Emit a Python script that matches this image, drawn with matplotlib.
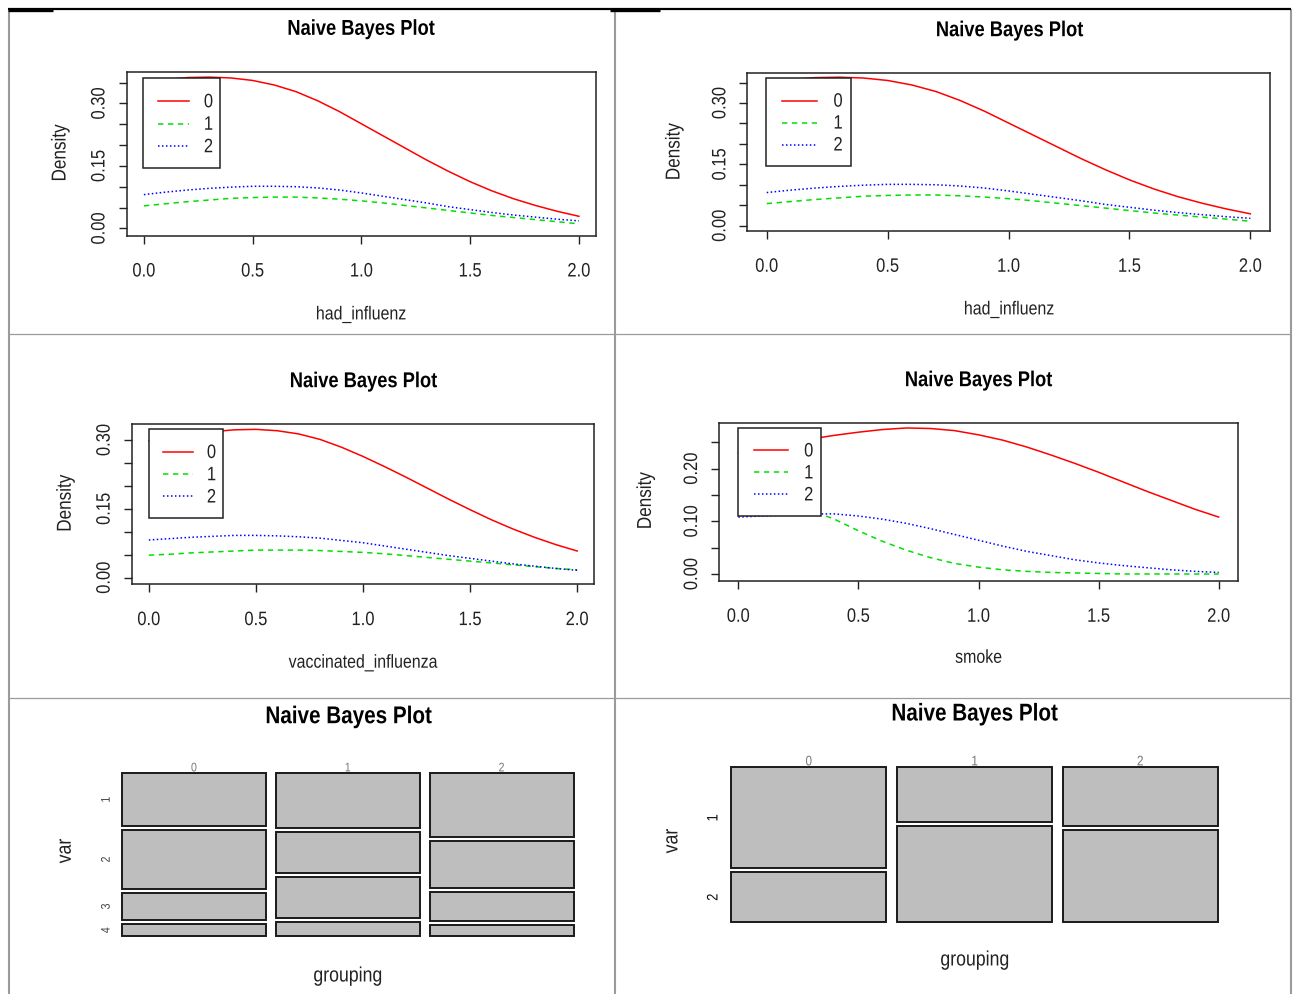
import matplotlib.pyplot as plt
from matplotlib.lines import Line2D
from matplotlib.patches import Rectangle
from matplotlib.patheffects import AbstractPathEffect
from matplotlib.text import Text
from matplotlib.transforms import Affine2D

plt.rcParams['font.family'] = ['Liberation Sans', 'DejaVu Sans']

W, H = 1298, 994

# class-conditional densities, read on a 0.1 grid
x_grid = [0.0, 0.1, 0.2, 0.3, 0.4, 0.5, 0.6, 0.7, 0.8, 0.9, 1.0,
          1.1, 1.2, 1.3, 1.4, 1.5, 1.6, 1.7, 1.8, 1.9, 2.0]
classes = ['0', '1', '2']

had_influenz_0 = [0.350, 0.357, 0.362, 0.363, 0.361, 0.355, 0.344, 0.328, 0.306, 0.280, 0.251,
                  0.222, 0.193, 0.164, 0.137, 0.112, 0.090, 0.071, 0.055, 0.041, 0.029]
had_influenz_1 = [0.054, 0.059, 0.064, 0.068, 0.072, 0.074, 0.075, 0.075, 0.073, 0.070, 0.066,
                  0.061, 0.055, 0.049, 0.043, 0.037, 0.031, 0.026, 0.021, 0.016, 0.011]
had_influenz_2 = [0.081, 0.087, 0.092, 0.096, 0.099, 0.101, 0.101, 0.100, 0.097, 0.092, 0.085,
                  0.077, 0.069, 0.061, 0.052, 0.045, 0.038, 0.032, 0.027, 0.022, 0.018]

vaccinated_0 = [0.298, 0.306, 0.313, 0.318, 0.322, 0.323, 0.320, 0.313, 0.301, 0.284, 0.264,
                0.242, 0.219, 0.195, 0.171, 0.148, 0.126, 0.106, 0.088, 0.072, 0.058]
vaccinated_1 = [0.049, 0.051, 0.054, 0.056, 0.058, 0.060, 0.060, 0.060, 0.059, 0.057, 0.055,
                0.052, 0.048, 0.044, 0.040, 0.036, 0.032, 0.028, 0.024, 0.020, 0.017]
vaccinated_2 = [0.082, 0.085, 0.088, 0.090, 0.092, 0.092, 0.091, 0.089, 0.086, 0.081, 0.076,
                0.069, 0.062, 0.055, 0.048, 0.042, 0.036, 0.030, 0.025, 0.020, 0.016]

smoke_0 = [0.230, 0.239, 0.248, 0.256, 0.263, 0.269, 0.274, 0.277, 0.276, 0.272, 0.264,
           0.254, 0.241, 0.226, 0.210, 0.193, 0.175, 0.157, 0.140, 0.123, 0.108]
smoke_1 = [0.135, 0.134, 0.130, 0.121, 0.104, 0.082, 0.062, 0.045, 0.031, 0.020, 0.013,
           0.008, 0.005, 0.003, 0.002, 0.001, 0.0, 0.0, 0.0, 0.0, 0.0]
smoke_2 = [0.108, 0.110, 0.112, 0.114, 0.114, 0.110, 0.104, 0.096, 0.086, 0.075, 0.064,
           0.053, 0.043, 0.035, 0.027, 0.021, 0.016, 0.012, 0.008, 0.005, 0.003]

# mosaic shares of each var level inside each grouping column
groupings = ['0', '1', '2']
var4_levels = ['1', '2', '3', '4']
var4_shares = [[0.349, 0.390, 0.180, 0.081],
               [0.364, 0.271, 0.270, 0.095],
               [0.421, 0.313, 0.194, 0.072]]
var2_levels = ['1', '2']
var2_shares = [[0.671, 0.329],
               [0.364, 0.636],
               [0.388, 0.612]]

x_ticks = [0.0, 0.5, 1.0, 1.5, 2.0]
x_ticklabels = ['0.0', '0.5', '1.0', '1.5', '2.0']

line_styles = [dict(color='#ff0000', lw=1.1, ls='-'),
               dict(color='#00e000', lw=1.1, ls=(0, (3.5, 3))),
               dict(color='#0000ff', lw=1.1, ls=(0, (1, 1.6)))]


class Squeeze(AbstractPathEffect):
    """Draw text narrower along its reading direction, keeping its centre."""

    def __init__(self, sx):
        super().__init__()
        self.sx = sx

    def draw_path(self, renderer, gc, tpath, affine, rgbFace=None):
        ext = tpath.get_extents()
        cx = (ext.x0 + ext.x1) / 2
        pre = Affine2D().translate(-cx, 0).scale(self.sx, 1).translate(cx, 0)
        renderer.draw_path(gc, tpath, pre + affine, rgbFace)


fig = plt.figure(figsize=(W / 100, H / 100), dpi=100)


def fig_rect(box):
    l, t, r, b = box
    return [l / W, 1 - b / H, (r - l) / W, (b - t) / H]


def fig_text(x, y, s, **kw):
    fig.text(x / W, 1 - y / H, s, ha='center', va='center', **kw)


def to_axes(box, px, py):
    l, t, r, b = box
    return (px - l) / (r - l), (b - py) / (b - t)


def density_panel(box, curves, xlabel, ylim, yticks, ylabels, leg, title_at, ylab_at, xlab_at):
    ax = fig.add_axes(fig_rect(box))
    for vals, st in zip(curves, line_styles):
        ax.plot(x_grid, vals, zorder=2, **st)
    ax.set_xlim(-0.08, 2.08)
    ax.set_ylim(*ylim)
    ax.set_xticks(x_ticks, x_ticklabels)
    ax.set_yticks(yticks, ylabels)
    for lbl in ax.get_yticklabels():
        lbl.set_rotation(90)
        lbl.set_va('center')
    ax.tick_params(direction='out', length=6, width=1, labelsize=14, colors='#222222')
    ax.tick_params(axis='x', pad=14)
    ax.tick_params(axis='y', pad=7)
    for sp in ax.spines.values():
        sp.set_linewidth(1.1)
        sp.set_color('#222222')

    # boxed key in the upper left, base-graphics style
    l, t, r, b = leg
    x0, y1 = to_axes(box, l, t)
    x1, y0 = to_axes(box, r, b)
    ax.add_patch(Rectangle((x0, y0), x1 - x0, y1 - y0, transform=ax.transAxes,
                           fc='white', ec='#222222', lw=1.1, zorder=3, clip_on=False))
    w, h = r - l, b - t
    for i, (name, st) in enumerate(zip(classes, line_styles)):
        ly = t + h * (0.255 + 0.25 * i)
        ax.add_line(Line2D([to_axes(box, l + 0.19 * w, ly)[0], to_axes(box, l + 0.6 * w, ly)[0]],
                           [to_axes(box, 0, ly)[1]] * 2, transform=ax.transAxes,
                           zorder=4, clip_on=False, **st))
        tx, ty = to_axes(box, l + 0.85 * w, ly + 1.5)
        ax.text(tx, ty, name, transform=ax.transAxes, ha='center', va='center',
                fontsize=14, color='#222222', zorder=5)

    fig_text(*title_at, 'Naive Bayes Plot', fontsize=15.5, fontweight='bold')
    fig_text(*ylab_at, 'Density', fontsize=14.5, rotation=90, color='#222222')
    fig_text(*xlab_at, xlabel, fontsize=13.5, color='#222222')
    return ax


def mosaic_panel(box, shares, levels, gap_x, gap_y, title_at, var_at, grp_at,
                 lvl_size, lvl_color, lvl_pad, top_size):
    ax = fig.add_axes(fig_rect(box))
    l, t, r, b = box
    ncol = len(shares)
    col_w = (r - l - (ncol - 1) * gap_x) / ncol
    usable = (b - t) - (len(levels) - 1) * gap_y
    centers = []
    for i, col in enumerate(shares):
        x = i * (col_w + gap_x)
        centers.append(x + col_w / 2)
        bottom = 0.0
        for j, s in enumerate(col):
            ax.bar(x, s * usable, width=col_w, bottom=bottom + j * gap_y, align='edge',
                   color='#bebebe', edgecolor='#1a1a1a', linewidth=1.4)
            bottom += s * usable
    ax.set_xlim(-1, r - l + 1)
    ax.set_ylim(b - t + 1, -1)
    # var level labels sit at the rows of the first column
    row_mid, acc = [], 0.0
    for j, s in enumerate(shares[0]):
        row_mid.append(acc + j * gap_y + s * usable / 2)
        acc += s * usable
    ax.set_yticks(row_mid, levels)
    for lbl in ax.get_yticklabels():
        lbl.set_rotation(90)
        lbl.set_va('center')
    ax.set_xticks(centers, groupings)
    ax.xaxis.tick_top()
    ax.tick_params(axis='x', length=0, pad=-1.5, labelsize=top_size, labelcolor='#777777')
    ax.tick_params(axis='y', length=0, pad=lvl_pad, labelsize=lvl_size, labelcolor=lvl_color)
    for sp in ax.spines.values():
        sp.set_visible(False)
    fig_text(*title_at, 'Naive Bayes Plot', fontsize=17.5, fontweight='bold')
    fig_text(*var_at, 'var', fontsize=15, rotation=90, color='#222222')
    fig_text(*grp_at, 'grouping', fontsize=15, color='#222222')
    return ax


had = [had_influenz_0, had_influenz_1, had_influenz_2]
yt35 = [0.0, 0.05, 0.10, 0.15, 0.20, 0.25, 0.30, 0.35]
yl35 = ['0.00', '', '', '0.15', '', '', '0.30', '']

density_panel((126.5, 71.7, 596.3, 235.7), had, 'had_influenz', (-0.0176, 0.376),
              yt35, yl35, (143.3, 78.3, 220.0, 168.3),
              (361, 29.3), (60, 153), (361, 315))
density_panel((747.4, 72.7, 1269.7, 231.0), had, 'had_influenz', (-0.013, 0.374),
              yt35, yl35, (766.0, 78.3, 850.8, 166.0),
              (1009.5, 30.7), (674, 151.7), (1009, 310))
density_panel((131.7, 424.3, 594.3, 584.3), [vaccinated_0, vaccinated_1, vaccinated_2],
              'vaccinated_influenza', (-0.0145, 0.334),
              [0.0, 0.05, 0.10, 0.15, 0.20, 0.25, 0.30],
              ['0.00', '', '', '0.15', '', '', '0.30'], (148.7, 429.3, 222.6, 518.3),
              (363.4, 381.7), (65.2, 503.3), (363, 663.3))
density_panel((719.1, 422.7, 1237.9, 581.0), [smoke_0, smoke_1, smoke_2], 'smoke',
              (-0.0133, 0.287), [0.0, 0.05, 0.10, 0.15, 0.20, 0.25],
              ['0.00', '', '0.10', '', '0.20', ''], (738.1, 428.0, 821.2, 516.0),
              (978.5, 380.7), (645.4, 500.7), (978.5, 658.3))

mosaic_panel((121.0, 772.3, 574.5, 937.3), var4_shares, var4_levels, 9.9, 4.0,
             (348.6, 716.7), (65.2, 851), (348, 976), 9, '#444444', 6, 9)
mosaic_panel((730.2, 766.3, 1218.9, 923.0), var2_shares, var2_levels, 10.6, 4.0,
             (974.6, 714), (671.9, 841), (975, 960), 11, '#111111', 7, 10)

# table grid around the six panels
grid_gray = '#9b9b9b'


def rule(x0, y0, x1, y1, color, width):
    fig.add_artist(Line2D([x0 / W, x1 / W], [1 - y0 / H, 1 - y1 / H],
                          transform=fig.transFigure, color=color, lw=width,
                          solid_capstyle='butt'))


for xv in (8.5, 615, 1291):
    rule(xv, 9, xv, H, grid_gray, 1.5)
for yv in (334.3, 698.3):
    rule(8, yv, 1291, yv, grid_gray, 0.9)
rule(8, 9, 1291, 9, '#000000', 1.6)
rule(8, 9.6, 53, 9.6, '#000000', 2.4)
rule(610, 9.6, 660, 9.6, '#000000', 2.4)

# the R device fonts run narrow
for txt in fig.findobj(Text):
    txt.set_path_effects([Squeeze(0.85)])

fig.savefig('out.png', dpi=100)
